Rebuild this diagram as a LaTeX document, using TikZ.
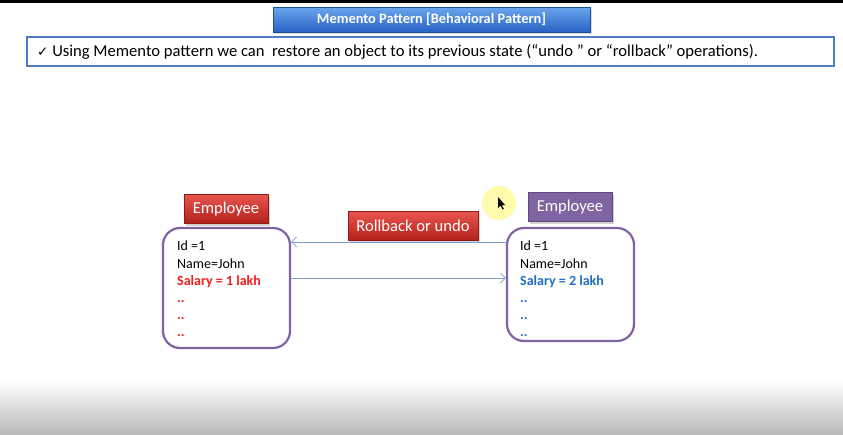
\documentclass[tikz,border=0pt]{standalone}
\usepackage{fontspec}
\setmainfont{Carlito}
\newfontfamily\symfont{DejaVu Sans}
\usetikzlibrary{arrows.meta,shadows}
\definecolor{redtop}{HTML}{E8554E}
\definecolor{redbot}{HTML}{B3211B}
\definecolor{bluetop}{HTML}{6BA6EE}
\definecolor{bluebot}{HTML}{2762C4}
\definecolor{purp}{HTML}{8064A2}
\definecolor{purpdark}{HTML}{5F4A7D}
\definecolor{linkblue}{HTML}{7F9FD3}
\definecolor{framblue}{HTML}{4F7CC0}
\definecolor{salblue}{HTML}{1F6FC0}
\definecolor{salred}{HTML}{F01E1E}
\tikzset{
  x=1pt, y=-1pt,
  redlabel/.style={draw=redbot!80!black, line width=0.6pt, top color=redtop, bottom color=redbot,
    text=white, font=\fontsize{16.6}{18}\selectfont, minimum width=84pt, minimum height=29pt, inner sep=0pt,
    drop shadow={shadow xshift=2pt, shadow yshift=-2pt, opacity=0.35}},
  purplabel/.style={draw=purpdark, line width=0.6pt, fill=purp,
    text=white, font=\fontsize{16.6}{18}\selectfont, minimum width=84pt, minimum height=29pt, inner sep=0pt,
    drop shadow={shadow xshift=2pt, shadow yshift=-2pt, opacity=0.35}},
  databox/.style={draw=purp, line width=2.2pt, rounded corners=17pt, fill=white, inner sep=0pt},
  boxtext/.style={anchor=north west, align=left, font=\fontsize{14}{17.2}\selectfont, inner sep=0pt},
  link/.style={draw=linkblue, line width=0.7pt, -{Straight Barb[length=5pt, width=10pt, line width=0.7pt]}},
}
\begin{document}
\begin{tikzpicture}
\useasboundingbox (0,0) rectangle (843,434);
% background
\fill[white] (0,0) rectangle (843,434);
\shade[top color=white, bottom color=black!27] (0,380) rectangle (843,434);
\fill[black] (0,0) rectangle (843,3);
% title
\node[draw=bluebot!80!black, line width=0.6pt, top color=bluetop, bottom color=bluebot,
  minimum width=317pt, minimum height=25pt, inner sep=0pt, text=white,
  font=\bfseries\fontsize{14.4}{16}\selectfont,
  drop shadow={shadow xshift=2pt, shadow yshift=-2pt, opacity=0.3}] (title) at (431.5,19.5)
  {Memento Pattern [Behavioral Pattern]};
% subtitle
\node[draw=framblue, line width=1.6pt, fill=white, minimum width=807pt, minimum height=29pt,
  inner sep=0pt] (sub) at (430.5,51.5) {};
\node[anchor=west, inner sep=0pt, font=\fontsize{16.6}{18}\selectfont] (subtext) at (37,51.5)
  {{\symfont\fontsize{13.5}{15}\selectfont ✓} Using Memento pattern we can\ \ restore an object to its previous state (“undo ” or “rollback” operations).};
% data boxes
\node[databox, minimum width=127pt, minimum height=120pt] (left) at (226.5,288) {};
\node[databox, minimum width=127pt, minimum height=113pt] (right) at (570.5,284.5) {};
\node[boxtext] (ltext) at (177,241) {Id =1\\Name=John\\\textcolor{salred}{\bfseries Salary = 1 lakh}\\\textcolor{salred}{\bfseries ..}\\\textcolor{salred}{\bfseries ..}\\\textcolor{salred}{\bfseries ..}};
\node[boxtext] (rtext) at (520,241) {Id =1\\Name=John\\\textcolor{salblue}{\bfseries Salary = 2 lakh}\\\textcolor{salblue}{\bfseries ..}\\\textcolor{salblue}{\bfseries ..}\\\textcolor{salblue}{\bfseries ..}};
% labels
\node[redlabel] (lemp) at (226,209) {Employee};
\node[purplabel] (remp) at (570,207) {Employee};
\node[redlabel, minimum width=130pt] (roll) at (413,226) {Rollback or undo};
% connectors
\coordinate (la) at (left.east |- 0,242);
\coordinate (ra) at (right.west |- 0,242);
\coordinate (lb) at (left.east |- 0,278);
\coordinate (rb) at (right.west |- 0,278);
\draw[link] (ra) -- (la);
\draw[link] (lb) -- (rb);
% cursor highlight
\fill[yellow!40, opacity=0.8] (499,203) circle (17pt);
\fill[black] (498,197) -- (498,208) -- (500.5,205.5) -- (502.5,209.5) -- (503.8,208.8) -- (501.8,205) -- (505,205) -- cycle;
\end{tikzpicture}
\end{document}
